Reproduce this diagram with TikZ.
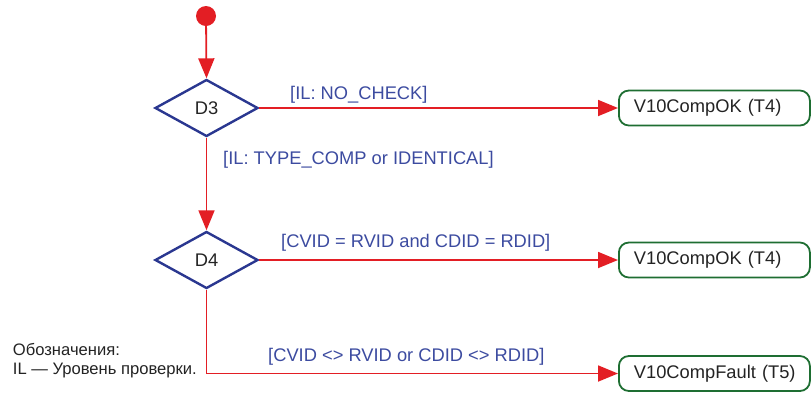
\documentclass[tikz,border=0pt]{standalone}
\usepackage{fontspec}
\setmainfont{Liberation Sans}
\usetikzlibrary{shapes.geometric,arrows.meta}
\definecolor{flowred}{HTML}{E31E24}
\definecolor{dblue}{HTML}{2A3790}
\definecolor{lblue}{HTML}{3C4BA0}
\definecolor{bgreen}{HTML}{1E6E32}
\definecolor{txt}{HTML}{232323}
\tikzset{
  flow/.style={draw=flowred, line width=1.8pt, -{Triangle[length=20pt,width=16pt]}},
  decision/.style={diamond, draw=dblue, line width=2.4pt, inner sep=0pt,
    minimum width=103pt, minimum height=57pt, text=txt,
    font=\fontsize{18.3}{22}\selectfont},
  statebox/.style={rectangle, rounded corners=10pt, draw=bgreen, line width=1.8pt,
    minimum height=35pt, inner xsep=15pt, text width=161pt, align=left, anchor=west,
    text=txt, font=\fontsize{18.3}{22}\selectfont},
  guard/.style={anchor=west, inner sep=0pt, text=lblue, font=\fontsize{18.3}{22}\selectfont},
  legend/.style={anchor=west, inner sep=0pt, align=left, text=txt,
    font=\fontsize{16.6}{19.3}\selectfont}
}
\begin{document}
\begin{tikzpicture}[x=1pt,y=-1pt]
\useasboundingbox (0,0) rectangle (811,392);
\node[circle, fill=flowred, minimum size=20pt, inner sep=0pt] (start) at (206,16) {};
\node[decision] (d3) at (206.5,108) {D3};
\node[decision] (d4) at (206.5,260) {D4};
\node[statebox] (ok1) at (618,108) {\mbox{V10CompOK (T4)}};
\node[statebox] (ok2) at (618,260) {\mbox{V10CompOK (T4)}};
\node[statebox] (fault) at (618,373.5) {\mbox{V10CompFault (T5)}};
\draw[flow] (start) -- (d3.north);
\draw[flow] (d3.east) -- (ok1.west);
\draw[flow] (d3.south) -- (d4.north);
\draw[flow] (d4.east) -- (ok2.west);
\draw[flow] (d4.south) |- (fault.west);
\node[guard] (g1) at (290,95) {[IL: NO\_CHECK]};
\node[guard] (g2) at (223,160) {[IL: TYPE\_COMP or IDENTICAL]};
\node[guard] (g3) at (281,243) {[CVID = RVID and CDID = RDID]};
\node[guard] (g4) at (268,357) {[CVID <> RVID or CDID <> RDID]};
\node[legend] (leg) at (12.7,360.5) {Обозначения:\\IL — Уровень проверки.};
\end{tikzpicture}
\end{document}
